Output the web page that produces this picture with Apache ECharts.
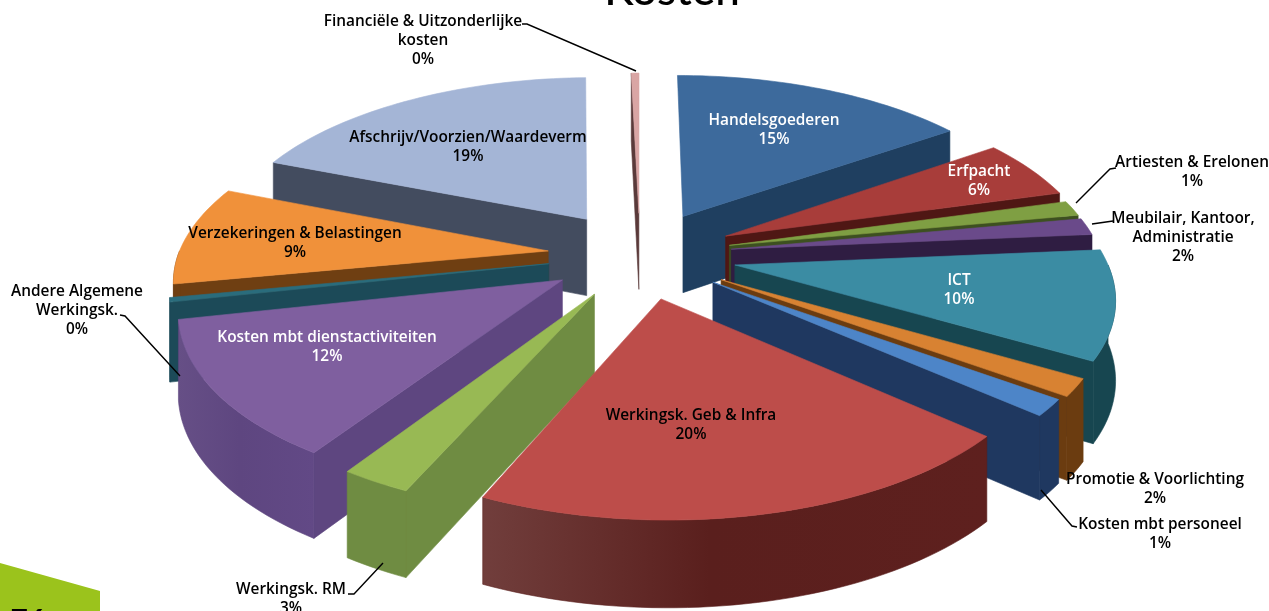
<!DOCTYPE html>
<html><head><meta charset="utf-8">
<style>html,body{margin:0;padding:0;background:#fff}#c{width:1269px;height:611px}</style>
<script src="https://cdn.jsdelivr.net/npm/echarts@6/dist/echarts.min.js"></script>
</head><body><div id="c"></div>
<script>
var categories = ['Handelsgoederen','Erfpacht','Artiesten & Erelonen','Meubilair, Kantoor,\nAdministratie','ICT','Promotie & Voorlichting','Kosten mbt personeel','Werkingsk. Geb & Infra','Werkingsk. RM','Kosten mbt dienstactiviteiten','Andere Algemene\nWerkingsk.','Verzekeringen & Belastingen','Afschrijv/Voorzien/Waardeverm','Financiële & Uitzonderlijke\nkosten'];
var values = [15.4,5.46,1.4,1.54,9.9,1.6,1.49,20.41,2.58,12.4,0.4,9.08,18.74,0.4];
var percentLabels = ['15%','6%','1%','2%','10%','2%','1%','20%','3%','12%','0%','9%','19%','0%'];
var topColors = ['#3d6a9c','#a83d3a','#7f9f43','#6a4a8a','#3b8ca3','#d88232','#4d85c8','#bd4d4a','#98b954','#7f5f9f','#2a6c7c','#f0913a','#a4b5d6','#d9a5a4'];
var wallColors = ['#1f3f60','#4f1714','#3d5020','#2f1d42','#174650','#6b3c10','#1f3860','#5a1f1d','#6f8c42','#5e4680','#1c4a58','#6f3f12','#434c5f','#5a3a3a'];
var arcHighlight = [0,0,0,0,0,0,0,0.14,0,0.05,0,0,0,0];
var explode = [.26,.26,.25,.25,.26,.255,.245,.25,.25,.25,.25,.25,.26,.25];
var labelColors = ['#fff','#fff','#000','#000','#fff','#000','#000','#000','#000','#fff','#000','#000','#000','#000'];
var labelCenters = [[774,121],[979,172],[1192,163],[1183,219],[959,281],[1155,480],[1160,525],[691,416],[291,590],[327,338],[77,292],[295,234],[468,138],[423,22]];
var leaders = [[[522,24],[527,24],[636,71]],[[1116,168],[1110,169],[1076,203]],[[1113,221],[1106,222],[1092,224]],[[1077,527],[1072,526],[1041,490]],[[348,594],[354,594],[383,563]],[[120,315],[125,316],[180,376]]];

var view = {cx:640, cy:255, R0:370, A:173, p:0.151, shear:3, depth:78, depthSlope:0.1};
var total = values.reduce(function(a,b){return a+b;},0);
var angles = [], acc = 0;
values.forEach(function(v){ var a0 = acc/total*360; acc += v; angles.push([a0, acc/total*360]); });
var rad = function(d){return d*Math.PI/180;};
var drawOrder = values.map(function(_,i){return i;}).sort(function(a,b){
  var ma=(angles[a][0]+angles[a][1])/2, mb=(angles[b][0]+angles[b][1])/2;
  return Math.cos(rad(mb))-Math.cos(rad(ma));
});
function project(X,Y,h){
  var s=1/(1-view.p*Y);
  return [view.cx+view.R0*X*s+view.shear*Math.max(Y,0), view.cy+view.A*Y*s+h*view.depth*(1+view.depthSlope*Y)];
}
function renderSlice(params, api){
  var i=api.value(0), a0=angles[i][0], a1=angles[i][1], mid=(a0+a1)/2, e=explode[i];
  var ax=e*Math.sin(rad(mid)), ay=-e*Math.cos(rad(mid));
  var pt=function(th,h){return project(ax+Math.sin(rad(th)),ay-Math.cos(rad(th)),h);};
  var apexTop=project(ax,ay,0), apexBot=project(ax,ay,1);
  var arc=function(t0,t1,h){var out=[],n=Math.max(2,Math.ceil((t1-t0)/1.5));for(var k=0;k<=n;k++)out.push(pt(t0+(t1-t0)*k/n,h));return out;};
  var kids=[];
  var poly=function(points,fill,stroke){kids.push({type:'polygon',shape:{points:points},style:{fill:fill,stroke:stroke||fill,lineWidth:0.6}});};
  if(Math.sin(rad(a0))<0) poly([apexTop,pt(a0,0),pt(a0,1),apexBot],wallColors[i]);
  if(Math.sin(rad(a1))>0) poly([apexTop,pt(a1,0),pt(a1,1),apexBot],wallColors[i]);
  var v0=Math.max(a0,90), v1=Math.min(a1,270);
  if(v1>v0){
    var c=echarts.color, hi=arcHighlight[i];
    var fill=hi?new echarts.graphic.LinearGradient(0,0,1,0,[{offset:0,color:c.lift(wallColors[i],hi)},{offset:0.45,color:wallColors[i]},{offset:1,color:c.lift(wallColors[i],-0.05)}]):wallColors[i];
    poly(arc(v0,v1,0).concat(arc(v0,v1,1).reverse()),fill,wallColors[i]);
  }
  poly([apexTop].concat(arc(a0,a1,0)),topColors[i]);
  return {type:'group',children:kids};
}
var FONT='"Open Sans"';
var graphics=[
 {type:'polygon',shape:{points:[[0,563],[100,591],[100,611],[0,611]]},style:{fill:'#9bc31c'}},
 {type:'text',x:672,y:-31,style:{text:'Kosten',font:'500 44px Lato',fill:'#000',align:'center',verticalAlign:'top'}},
 {type:'text',x:28,y:606,style:{text:'76',font:'700 30px Lato',fill:'#000',align:'center',verticalAlign:'top'}}
];
leaders.forEach(function(l){graphics.push({type:'polyline',shape:{points:l},style:{stroke:'#000',lineWidth:1.4,fill:null},z:5});});
categories.forEach(function(name,i){
  var lines=name.split('\n').concat([percentLabels[i]]);
  lines.forEach(function(t,k){
    graphics.push({type:'text',x:labelCenters[i][0],y:labelCenters[i][1]+k*19,z:6,style:{text:t,font:'600 15.4px '+FONT,fill:labelColors[i],align:'center',verticalAlign:'middle'}});
  });
});
var chart=echarts.init(document.getElementById('c'),null,{renderer:'canvas'});
chart.setOption({
  animation:false,
  backgroundColor:'#fff',
  series:[{type:'custom',coordinateSystem:'none',renderItem:renderSlice,silent:true,
    encode:{value:1},
    data:drawOrder.map(function(i){return {name:categories[i],value:[i,values[i]]};})}],
  graphic:{elements:graphics}
});
</script></body></html>
